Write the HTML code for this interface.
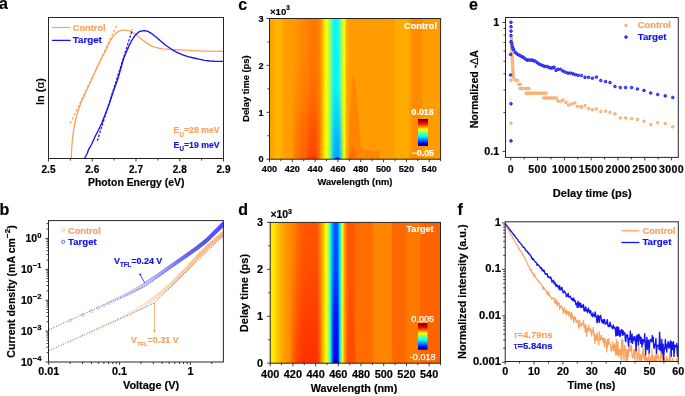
<!DOCTYPE html>
<html><head><meta charset="utf-8"><style>
html,body{margin:0;padding:0;background:#fff;}
svg{display:block;font-family:"Liberation Sans", sans-serif;-webkit-font-smoothing:antialiased;}
text{stroke:currentColor;stroke-width:0.18px;}
.w{will-change:transform;}
</style></head><body><div style="will-change:transform;width:685px;height:396px">
<svg width="685" height="396" viewBox="0 0 685 396">
<defs><clipPath id="ca"><rect x="48.5" y="17.5" width="175" height="141"/></clipPath><clipPath id="cb"><rect x="48.5" y="220.6" width="174.9" height="141.4"/></clipPath><clipPath id="cf"><rect x="505.2" y="221.8" width="173.1" height="139.7"/></clipPath><linearGradient id="gc" gradientUnits="userSpaceOnUse" x1="269.5" y1="0" x2="440.6" y2="0"><stop offset="0.0000" stop-color="#ffa000"/><stop offset="0.0146" stop-color="#ffa400"/><stop offset="0.0321" stop-color="#ffb000"/><stop offset="0.0497" stop-color="#ffb800"/><stop offset="0.0672" stop-color="#ffae00"/><stop offset="0.0847" stop-color="#ffa000"/><stop offset="0.1198" stop-color="#ff9c00"/><stop offset="0.1607" stop-color="#ff9600"/><stop offset="0.1783" stop-color="#ff8c00"/><stop offset="0.1958" stop-color="#ff8600"/><stop offset="0.2309" stop-color="#ff8200"/><stop offset="0.2425" stop-color="#ff7800"/><stop offset="0.2776" stop-color="#ff7800"/><stop offset="0.2951" stop-color="#ff8c00"/><stop offset="0.3068" stop-color="#ffa800"/><stop offset="0.3156" stop-color="#ffd000"/><stop offset="0.3244" stop-color="#fff000"/><stop offset="0.3331" stop-color="#ffff00"/><stop offset="0.3419" stop-color="#d0ff30"/><stop offset="0.3507" stop-color="#a0ff60"/><stop offset="0.3594" stop-color="#70ff90"/><stop offset="0.3682" stop-color="#40ffc0"/><stop offset="0.3770" stop-color="#10f0ff"/><stop offset="0.3887" stop-color="#00ffff"/><stop offset="0.3974" stop-color="#00ffff"/><stop offset="0.4044" stop-color="#20ffe0"/><stop offset="0.4120" stop-color="#60ffa0"/><stop offset="0.4208" stop-color="#a0ff60"/><stop offset="0.4296" stop-color="#e0ff20"/><stop offset="0.4372" stop-color="#ffff00"/><stop offset="0.4442" stop-color="#ffd000"/><stop offset="0.4530" stop-color="#ffa800"/><stop offset="0.4646" stop-color="#ff9c00"/><stop offset="0.7276" stop-color="#ff9c00"/><stop offset="0.7393" stop-color="#ffac00"/><stop offset="0.8095" stop-color="#ffac00"/><stop offset="0.8212" stop-color="#ff9c00"/><stop offset="0.8387" stop-color="#ff8c00"/><stop offset="0.8854" stop-color="#ff8c00"/><stop offset="0.8971" stop-color="#ff9c00"/><stop offset="1.0000" stop-color="#ff9c00"/></linearGradient><clipPath id="clc"><rect x="269.5" y="18.5" width="171.10" height="140.70"/></clipPath><linearGradient id="gcr" gradientUnits="userSpaceOnUse" x1="292" y1="0" x2="322" y2="0"><stop offset="0.0000" stop-color="#ff3c00" stop-opacity="0"/><stop offset="0.1333" stop-color="#ff3c00" stop-opacity="0.35"/><stop offset="0.3000" stop-color="#ff3c00" stop-opacity="0.45"/><stop offset="0.5000" stop-color="#ff3c00" stop-opacity="0.5"/><stop offset="0.5667" stop-color="#ff3c00" stop-opacity="0.8"/><stop offset="0.7667" stop-color="#ff3c00" stop-opacity="0.85"/><stop offset="0.8667" stop-color="#ff3c00" stop-opacity="0.5"/><stop offset="1.0000" stop-color="#ff3c00" stop-opacity="0"/></linearGradient><linearGradient id="mcrg" gradientUnits="userSpaceOnUse" x1="0" y1="18.5" x2="0" y2="159.2"><stop offset="0.0000" stop-color="#fff" stop-opacity="0.0"/><stop offset="0.2950" stop-color="#fff" stop-opacity="0.05"/><stop offset="0.5792" stop-color="#fff" stop-opacity="0.3"/><stop offset="0.7925" stop-color="#fff" stop-opacity="0.75"/><stop offset="0.9346" stop-color="#fff" stop-opacity="0.9"/><stop offset="1.0000" stop-color="#fff" stop-opacity="1"/></linearGradient><mask id="mcr" maskUnits="userSpaceOnUse" x="260" y="18.5" width="190" height="140.7"><rect x="260" y="18.5" width="190" height="140.7" fill="url(#mcrg)"/></mask><linearGradient id="gcy" gradientUnits="userSpaceOnUse" x1="318" y1="0" x2="327" y2="0"><stop offset="0.0000" stop-color="#ffe000" stop-opacity="0"/><stop offset="0.3333" stop-color="#ffe000" stop-opacity="0.15"/><stop offset="0.6111" stop-color="#ffe000" stop-opacity="0.1"/><stop offset="1.0000" stop-color="#ffe000" stop-opacity="0"/></linearGradient><linearGradient id="mcyg" gradientUnits="userSpaceOnUse" x1="0" y1="18.5" x2="0" y2="159.2"><stop offset="0.0000" stop-color="#fff" stop-opacity="0.0"/><stop offset="0.5792" stop-color="#fff" stop-opacity="0.0"/><stop offset="0.8635" stop-color="#fff" stop-opacity="0.7"/><stop offset="1.0000" stop-color="#fff" stop-opacity="1"/></linearGradient><mask id="mcy" maskUnits="userSpaceOnUse" x="260" y="18.5" width="190" height="140.7"><rect x="260" y="18.5" width="190" height="140.7" fill="url(#mcyg)"/></mask><linearGradient id="gcb" gradientUnits="userSpaceOnUse" x1="330" y1="0" x2="344" y2="0"><stop offset="0.0000" stop-color="#0090ff" stop-opacity="0"/><stop offset="0.2143" stop-color="#0090ff" stop-opacity="0.5"/><stop offset="0.4286" stop-color="#0090ff" stop-opacity="0.8"/><stop offset="0.5714" stop-color="#0090ff" stop-opacity="0.85"/><stop offset="0.7143" stop-color="#0090ff" stop-opacity="0.6"/><stop offset="1.0000" stop-color="#0090ff" stop-opacity="0"/></linearGradient><linearGradient id="mcbg" gradientUnits="userSpaceOnUse" x1="0" y1="18.5" x2="0" y2="159.2"><stop offset="0.0000" stop-color="#fff" stop-opacity="0.0"/><stop offset="0.5082" stop-color="#fff" stop-opacity="0.1"/><stop offset="0.7214" stop-color="#fff" stop-opacity="0.5"/><stop offset="0.8635" stop-color="#fff" stop-opacity="0.8"/><stop offset="1.0000" stop-color="#fff" stop-opacity="1"/></linearGradient><mask id="mcb" maskUnits="userSpaceOnUse" x="260" y="18.5" width="190" height="140.7"><rect x="260" y="18.5" width="190" height="140.7" fill="url(#mcbg)"/></mask><linearGradient id="jet" gradientUnits="userSpaceOnUse" x1="0" y1="146" x2="0" y2="119"><stop offset="-0.0000" stop-color="#000060"/><stop offset="0.1000" stop-color="#0000ff"/><stop offset="0.3600" stop-color="#00ffff"/><stop offset="0.5000" stop-color="#80ff80"/><stop offset="0.6200" stop-color="#ffff00"/><stop offset="0.8400" stop-color="#ff0000"/><stop offset="0.9300" stop-color="#b00000"/><stop offset="1.0000" stop-color="#300000"/></linearGradient><linearGradient id="gd" gradientUnits="userSpaceOnUse" x1="270.2" y1="0" x2="440.5" y2="0"><stop offset="0.0000" stop-color="#ffe000"/><stop offset="0.0106" stop-color="#fff000"/><stop offset="0.0252" stop-color="#ffe000"/><stop offset="0.0399" stop-color="#ffcc00"/><stop offset="0.0575" stop-color="#ffb400"/><stop offset="0.0869" stop-color="#ff9c00"/><stop offset="0.1163" stop-color="#ff8c00"/><stop offset="0.1456" stop-color="#ff7c00"/><stop offset="0.1691" stop-color="#ff6800"/><stop offset="0.1926" stop-color="#ff5a00"/><stop offset="0.2748" stop-color="#ff5200"/><stop offset="0.2836" stop-color="#ff6c00"/><stop offset="0.2983" stop-color="#ff9000"/><stop offset="0.3100" stop-color="#ffb800"/><stop offset="0.3218" stop-color="#ffe800"/><stop offset="0.3294" stop-color="#ffff00"/><stop offset="0.3394" stop-color="#c0ff40"/><stop offset="0.3482" stop-color="#60ffa0"/><stop offset="0.3541" stop-color="#20f0e0"/><stop offset="0.3600" stop-color="#00d0ff"/><stop offset="0.3688" stop-color="#0090ff"/><stop offset="0.3776" stop-color="#0060ff"/><stop offset="0.3864" stop-color="#0050ff"/><stop offset="0.3952" stop-color="#0070ff"/><stop offset="0.4011" stop-color="#00a0ff"/><stop offset="0.4069" stop-color="#00e0ff"/><stop offset="0.4157" stop-color="#40ffc0"/><stop offset="0.4245" stop-color="#ffff00"/><stop offset="0.4334" stop-color="#ffb000"/><stop offset="0.4422" stop-color="#ff8000"/><stop offset="0.4510" stop-color="#ff6800"/><stop offset="0.4568" stop-color="#ff5800"/><stop offset="0.4921" stop-color="#ff5800"/><stop offset="0.5038" stop-color="#ff6c00"/><stop offset="0.5978" stop-color="#ff6c00"/><stop offset="0.6095" stop-color="#ff8400"/><stop offset="0.7093" stop-color="#ff8400"/><stop offset="0.7211" stop-color="#ff6800"/><stop offset="0.7915" stop-color="#ff6800"/><stop offset="0.8033" stop-color="#ff7800"/><stop offset="0.8738" stop-color="#ff7800"/><stop offset="0.8855" stop-color="#ff6400"/><stop offset="1.0000" stop-color="#ff6400"/></linearGradient><clipPath id="cld"><rect x="270.2" y="222.4" width="170.30" height="140.80"/></clipPath><linearGradient id="gdr" gradientUnits="userSpaceOnUse" x1="290" y1="0" x2="322" y2="0"><stop offset="0.0000" stop-color="#ff2400" stop-opacity="0"/><stop offset="0.0938" stop-color="#ff2400" stop-opacity="0.35"/><stop offset="0.2500" stop-color="#ff2400" stop-opacity="0.6"/><stop offset="0.4375" stop-color="#ff2400" stop-opacity="0.8"/><stop offset="0.8125" stop-color="#ff2400" stop-opacity="0.8"/><stop offset="0.9062" stop-color="#ff2400" stop-opacity="0.5"/><stop offset="1.0000" stop-color="#ff2400" stop-opacity="0"/></linearGradient><linearGradient id="mdrg" gradientUnits="userSpaceOnUse" x1="0" y1="222.4" x2="0" y2="363.2"><stop offset="0.0000" stop-color="#fff" stop-opacity="0.0"/><stop offset="0.2670" stop-color="#fff" stop-opacity="0.15"/><stop offset="0.5511" stop-color="#fff" stop-opacity="0.45"/><stop offset="0.8352" stop-color="#fff" stop-opacity="0.8"/><stop offset="1.0000" stop-color="#fff" stop-opacity="1"/></linearGradient><mask id="mdr" maskUnits="userSpaceOnUse" x="260" y="222.4" width="190" height="140.79999999999998"><rect x="260" y="222.4" width="190" height="140.79999999999998" fill="url(#mdrg)"/></mask><linearGradient id="gdb" gradientUnits="userSpaceOnUse" x1="331" y1="0" x2="340" y2="0"><stop offset="0.0000" stop-color="#0000e8" stop-opacity="0"/><stop offset="0.2222" stop-color="#0000e8" stop-opacity="0.7"/><stop offset="0.5000" stop-color="#0000e8" stop-opacity="1"/><stop offset="0.7222" stop-color="#0000e8" stop-opacity="0.9"/><stop offset="1.0000" stop-color="#0000e8" stop-opacity="0"/></linearGradient><linearGradient id="mdbg" gradientUnits="userSpaceOnUse" x1="0" y1="222.4" x2="0" y2="363.2"><stop offset="0.0000" stop-color="#fff" stop-opacity="0.0"/><stop offset="0.3381" stop-color="#fff" stop-opacity="0.2"/><stop offset="0.6932" stop-color="#fff" stop-opacity="0.8"/><stop offset="1.0000" stop-color="#fff" stop-opacity="1"/></linearGradient><mask id="mdb" maskUnits="userSpaceOnUse" x="260" y="222.4" width="190" height="140.79999999999998"><rect x="260" y="222.4" width="190" height="140.79999999999998" fill="url(#mdbg)"/></mask><linearGradient id="jet2" gradientUnits="userSpaceOnUse" x1="0" y1="349.7" x2="0" y2="323.3"><stop offset="-0.0000" stop-color="#000060"/><stop offset="0.1000" stop-color="#0000ff"/><stop offset="0.3600" stop-color="#00ffff"/><stop offset="0.5000" stop-color="#80ff80"/><stop offset="0.6200" stop-color="#ffff00"/><stop offset="0.8400" stop-color="#ff0000"/><stop offset="0.9300" stop-color="#b00000"/><stop offset="1.0000" stop-color="#300000"/></linearGradient></defs>
<rect width="685" height="396" fill="#fff"/>
<text x="-1" y="8.8" font-size="16" text-anchor="start" fill="#000" color="#000" font-weight="bold" >a</text>
<text x="238.2" y="9.8" font-size="16" text-anchor="start" fill="#000" color="#000" font-weight="bold" >c</text>
<text x="469" y="9.8" font-size="16" text-anchor="start" fill="#000" color="#000" font-weight="bold" >e</text>
<text x="-0.5" y="214.6" font-size="16" text-anchor="start" fill="#000" color="#000" font-weight="bold" >b</text>
<text x="238.2" y="214.6" font-size="16" text-anchor="start" fill="#000" color="#000" font-weight="bold" >d</text>
<text x="457.5" y="214.6" font-size="16" text-anchor="start" fill="#000" color="#000" font-weight="bold" >f</text>
<g clip-path="url(#ca)">
<path d="M71.3,158.5 71.6,150 72.3,140.7 73.2,133 74.3,126.5 76,118 78.3,110.3 81,102.5 84.4,95.2 88,87.5 91.5,80 96,70 100,61.5 103.3,55 105,52.3 107.5,46.5 110,41.2 112.5,37.3 115.1,34.1 117.5,32 120.2,30.6 125.2,30.1 130.3,31.1 135.3,34.1 140.4,38.2 145,41.7 149,44.6 153.2,46.6 158,48 162.4,48.9 175.3,49.6 193.8,50.6 212.2,51.3 223.5,51.2" fill="none" stroke="#f8a25e" stroke-width="1.3" stroke-linejoin="round" />
<path d="M84.4,158.5 87,154 88.8,149.1 91.5,144.5 95.6,135.5 98.5,130 101.7,123.3 104.7,115.5 107.7,108.2 110.7,99.5 113.8,90 117.8,79 120.2,70.5 123.2,60 125,55 127.2,50.3 129.2,45.5 131.3,41.2 133.3,38 135.3,35.2 137.3,33.2 139.3,31.6 142,30.8 145,30.6 148,31.3 151.3,33.3 156,37 160.6,41 166,45.5 171.6,49.3 177,52.3 182.7,54.8 188,56.6 193.8,58 199,59.2 204.8,60.3 210,61 215.9,61.3 223.5,61.3" fill="none" stroke="#1414f0" stroke-width="1.35" stroke-linejoin="round" />
<line x1="70.2" y1="123.5" x2="117.1" y2="24.7" stroke="#f8a25e" stroke-width="1.2" stroke-dasharray="2.6,1.8"/>
<line x1="97.3" y1="140.8" x2="132.4" y2="29.5" stroke="#1414f0" stroke-width="1.2" stroke-dasharray="2.6,1.4"/>
</g>
<rect x="48.5" y="17.5" width="175" height="141" fill="none" stroke="#262626" stroke-width="1"/>
<path d="M48.5,158.5v3M92.25,158.5v3M136,158.5v3M179.75,158.5v3M223.5,158.5v3M70.37,158.5v2M114.12,158.5v2M157.88,158.5v2M201.62,158.5v2" stroke="#262626" stroke-width="0.9" fill="none"/>
<text x="48.5" y="173" font-size="10" text-anchor="middle" fill="#000" color="#000" font-weight="bold" >2.5</text>
<text x="92.25" y="173" font-size="10" text-anchor="middle" fill="#000" color="#000" font-weight="bold" >2.6</text>
<text x="136" y="173" font-size="10" text-anchor="middle" fill="#000" color="#000" font-weight="bold" >2.7</text>
<text x="179.75" y="173" font-size="10" text-anchor="middle" fill="#000" color="#000" font-weight="bold" >2.8</text>
<text x="223.5" y="173" font-size="10" text-anchor="middle" fill="#000" color="#000" font-weight="bold" >2.9</text>
<text x="136.2" y="186.1" font-size="10.4" text-anchor="middle" fill="#000" color="#000" font-weight="bold" >Photon Energy (eV)</text>
<text transform="translate(43.8,91.6) rotate(-90)" font-size="11" text-anchor="middle" font-weight="bold" >ln (<tspan font-weight="normal" font-size="11.5">α</tspan>)</text>
<line x1="52" y1="27.5" x2="70.6" y2="27.5" stroke="#f8a25e" stroke-width="1.2" />
<text x="72.7" y="30.9" font-size="9.6" text-anchor="start" fill="#f8a25e" color="#f8a25e" font-weight="bold" textLength="33" lengthAdjust="spacingAndGlyphs">Control</text>
<line x1="52" y1="40.4" x2="70.6" y2="40.4" stroke="#1414f0" stroke-width="1.3" />
<text x="72.7" y="43.2" font-size="9.6" text-anchor="start" fill="#1414f0" color="#1414f0" font-weight="bold" textLength="29.2" lengthAdjust="spacingAndGlyphs">Target</text>
<text x="173.6" y="133.3" font-size="9.5" text-anchor="start" fill="#f8a25e" color="#f8a25e" font-weight="bold" textLength="46" lengthAdjust="spacingAndGlyphs">E<tspan font-size="6.8" dy="3.6">U</tspan><tspan dy="-3.6">=28 meV</tspan></text>
<text x="173.6" y="147.6" font-size="9.5" text-anchor="start" fill="#1414f0" color="#1414f0" font-weight="bold" textLength="46" lengthAdjust="spacingAndGlyphs">E<tspan font-size="6.8" dy="3.6">U</tspan><tspan dy="-3.6">=19 meV</tspan></text>
<g clip-path="url(#cb)">
<g fill="none" stroke="#fbbb88" stroke-width="0.3"><circle cx="70.11" cy="341.18" r="1.6"/><circle cx="82.58" cy="336.23" r="1.6"/><circle cx="91.43" cy="332.16" r="1.6"/><circle cx="98.29" cy="329.05" r="1.6"/><circle cx="103.89" cy="326.56" r="1.6"/><circle cx="108.63" cy="324.3" r="1.6"/><circle cx="112.74" cy="322.35" r="1.6"/><circle cx="116.36" cy="320.49" r="1.6"/><circle cx="119.6" cy="318.77" r="1.6"/><circle cx="122.53" cy="317.21" r="1.6"/><circle cx="125.21" cy="315.78" r="1.6"/><circle cx="127.67" cy="314.5" r="1.6"/><circle cx="129.95" cy="313.33" r="1.6"/><circle cx="132.07" cy="312.25" r="1.6"/><circle cx="134.05" cy="311.23" r="1.6"/><circle cx="135.92" cy="310.28" r="1.6"/><circle cx="137.67" cy="309.38" r="1.6"/><circle cx="139.34" cy="308.51" r="1.6"/><circle cx="140.91" cy="307.44" r="1.6"/><circle cx="142.41" cy="306.43" r="1.6"/><circle cx="143.84" cy="305.46" r="1.6"/><circle cx="145.21" cy="304.54" r="1.6"/><circle cx="146.52" cy="303.65" r="1.6"/><circle cx="147.77" cy="302.8" r="1.6"/><circle cx="148.98" cy="301.99" r="1.6"/><circle cx="150.14" cy="301.19" r="1.6"/><circle cx="151.26" cy="300.36" r="1.6"/><circle cx="152.34" cy="299.55" r="1.6"/><circle cx="153.38" cy="298.77" r="1.6"/><circle cx="154.39" cy="298.02" r="1.6"/><circle cx="155.36" cy="297.29" r="1.6"/><circle cx="156.31" cy="296.58" r="1.6"/><circle cx="157.23" cy="295.9" r="1.6"/><circle cx="158.12" cy="295.23" r="1.6"/><circle cx="158.99" cy="294.58" r="1.6"/><circle cx="159.83" cy="293.93" r="1.6"/><circle cx="160.65" cy="293.27" r="1.6"/><circle cx="161.45" cy="292.63" r="1.6"/><circle cx="162.23" cy="292" r="1.6"/><circle cx="162.99" cy="291.38" r="1.6"/><circle cx="163.73" cy="290.78" r="1.6"/><circle cx="164.45" cy="290.2" r="1.6"/><circle cx="165.16" cy="289.63" r="1.6"/><circle cx="165.85" cy="289.07" r="1.6"/><circle cx="166.52" cy="288.52" r="1.6"/><circle cx="167.18" cy="287.99" r="1.6"/><circle cx="167.83" cy="287.46" r="1.6"/><circle cx="168.47" cy="286.95" r="1.6"/><circle cx="169.09" cy="286.41" r="1.6"/><circle cx="169.7" cy="285.81" r="1.6"/><circle cx="170.29" cy="285.22" r="1.6"/><circle cx="170.88" cy="284.64" r="1.6"/><circle cx="171.45" cy="284.07" r="1.6"/><circle cx="172.02" cy="283.52" r="1.6"/><circle cx="172.57" cy="282.97" r="1.6"/><circle cx="173.12" cy="282.43" r="1.6"/><circle cx="173.65" cy="281.9" r="1.6"/><circle cx="174.18" cy="281.38" r="1.6"/><circle cx="174.69" cy="280.87" r="1.6"/><circle cx="175.2" cy="280.36" r="1.6"/><circle cx="175.7" cy="279.87" r="1.6"/><circle cx="176.19" cy="279.38" r="1.6"/><circle cx="176.68" cy="278.9" r="1.6"/><circle cx="177.15" cy="278.43" r="1.6"/><circle cx="177.62" cy="277.97" r="1.6"/><circle cx="178.09" cy="277.51" r="1.6"/><circle cx="178.54" cy="277.06" r="1.6"/><circle cx="178.99" cy="276.61" r="1.6"/><circle cx="179.43" cy="276.17" r="1.6"/><circle cx="179.87" cy="275.73" r="1.6"/><circle cx="180.3" cy="275.3" r="1.6"/><circle cx="180.72" cy="274.88" r="1.6"/><circle cx="181.14" cy="274.46" r="1.6"/><circle cx="181.55" cy="274.05" r="1.6"/><circle cx="181.96" cy="273.64" r="1.6"/><circle cx="182.36" cy="273.24" r="1.6"/><circle cx="182.76" cy="272.84" r="1.6"/><circle cx="183.15" cy="272.45" r="1.6"/><circle cx="183.54" cy="272.06" r="1.6"/><circle cx="183.92" cy="271.68" r="1.6"/><circle cx="184.3" cy="271.3" r="1.6"/><circle cx="184.67" cy="270.93" r="1.6"/><circle cx="185.04" cy="270.56" r="1.6"/><circle cx="185.4" cy="270.2" r="1.6"/><circle cx="185.76" cy="269.84" r="1.6"/><circle cx="186.12" cy="269.48" r="1.6"/><circle cx="186.47" cy="269.13" r="1.6"/><circle cx="186.82" cy="268.78" r="1.6"/><circle cx="187.16" cy="268.44" r="1.6"/><circle cx="187.5" cy="268.1" r="1.6"/><circle cx="187.84" cy="267.76" r="1.6"/><circle cx="188.17" cy="267.4" r="1.6"/><circle cx="188.5" cy="267.04" r="1.6"/><circle cx="188.82" cy="266.68" r="1.6"/><circle cx="189.14" cy="266.32" r="1.6"/><circle cx="189.46" cy="265.97" r="1.6"/><circle cx="189.78" cy="265.62" r="1.6"/><circle cx="190.09" cy="265.28" r="1.6"/><circle cx="190.4" cy="264.93" r="1.6"/><circle cx="190.71" cy="264.6" r="1.6"/><circle cx="191.01" cy="264.26" r="1.6"/><circle cx="191.31" cy="263.93" r="1.6"/><circle cx="191.61" cy="263.6" r="1.6"/><circle cx="191.9" cy="263.27" r="1.6"/><circle cx="192.19" cy="262.95" r="1.6"/><circle cx="192.48" cy="262.63" r="1.6"/><circle cx="192.77" cy="262.32" r="1.6"/><circle cx="193.05" cy="262" r="1.6"/><circle cx="193.33" cy="261.69" r="1.6"/><circle cx="193.61" cy="261.38" r="1.6"/><circle cx="193.88" cy="261.08" r="1.6"/><circle cx="194.16" cy="260.78" r="1.6"/><circle cx="194.43" cy="260.48" r="1.6"/><circle cx="194.7" cy="260.18" r="1.6"/><circle cx="194.96" cy="259.88" r="1.6"/><circle cx="195.23" cy="259.59" r="1.6"/><circle cx="195.49" cy="259.3" r="1.6"/><circle cx="195.75" cy="259.02" r="1.6"/><circle cx="196.01" cy="258.73" r="1.6"/><circle cx="196.26" cy="258.45" r="1.6"/><circle cx="196.51" cy="258.17" r="1.6"/><circle cx="196.77" cy="257.89" r="1.6"/><circle cx="197.01" cy="257.62" r="1.6"/><circle cx="197.26" cy="257.34" r="1.6"/><circle cx="197.51" cy="257.09" r="1.6"/><circle cx="197.75" cy="256.85" r="1.6"/><circle cx="197.99" cy="256.61" r="1.6"/><circle cx="198.23" cy="256.37" r="1.6"/><circle cx="198.47" cy="256.13" r="1.6"/><circle cx="198.7" cy="255.9" r="1.6"/><circle cx="198.94" cy="255.66" r="1.6"/><circle cx="199.17" cy="255.43" r="1.6"/><circle cx="199.4" cy="255.2" r="1.6"/><circle cx="199.63" cy="254.97" r="1.6"/><circle cx="199.85" cy="254.75" r="1.6"/><circle cx="200.08" cy="254.52" r="1.6"/><circle cx="200.3" cy="254.3" r="1.6"/><circle cx="200.53" cy="254.07" r="1.6"/><circle cx="200.75" cy="253.85" r="1.6"/><circle cx="200.96" cy="253.64" r="1.6"/><circle cx="201.18" cy="253.42" r="1.6"/><circle cx="201.4" cy="253.2" r="1.6"/><circle cx="201.61" cy="252.99" r="1.6"/><circle cx="201.82" cy="252.78" r="1.6"/><circle cx="202.04" cy="252.56" r="1.6"/><circle cx="202.25" cy="252.35" r="1.6"/><circle cx="202.45" cy="252.15" r="1.6"/><circle cx="202.66" cy="251.94" r="1.6"/><circle cx="202.87" cy="251.73" r="1.6"/><circle cx="203.07" cy="251.53" r="1.6"/><circle cx="203.27" cy="251.33" r="1.6"/><circle cx="203.48" cy="251.12" r="1.6"/><circle cx="203.68" cy="250.92" r="1.6"/><circle cx="203.88" cy="250.72" r="1.6"/><circle cx="204.07" cy="250.53" r="1.6"/><circle cx="204.27" cy="250.33" r="1.6"/><circle cx="204.46" cy="250.14" r="1.6"/><circle cx="204.66" cy="249.94" r="1.6"/><circle cx="204.85" cy="249.75" r="1.6"/><circle cx="205.04" cy="249.56" r="1.6"/><circle cx="205.23" cy="249.37" r="1.6"/><circle cx="205.42" cy="249.18" r="1.6"/><circle cx="205.61" cy="248.99" r="1.6"/><circle cx="205.8" cy="248.8" r="1.6"/><circle cx="205.98" cy="248.62" r="1.6"/><circle cx="206.17" cy="248.43" r="1.6"/><circle cx="206.35" cy="248.25" r="1.6"/><circle cx="206.53" cy="248.07" r="1.6"/><circle cx="206.72" cy="247.88" r="1.6"/><circle cx="206.9" cy="247.71" r="1.6"/><circle cx="207.08" cy="247.55" r="1.6"/><circle cx="207.25" cy="247.39" r="1.6"/><circle cx="207.43" cy="247.24" r="1.6"/><circle cx="207.61" cy="247.08" r="1.6"/><circle cx="207.78" cy="246.92" r="1.6"/><circle cx="207.96" cy="246.77" r="1.6"/><circle cx="208.13" cy="246.61" r="1.6"/><circle cx="208.3" cy="246.46" r="1.6"/><circle cx="208.47" cy="246.3" r="1.6"/><circle cx="208.64" cy="246.15" r="1.6"/><circle cx="208.81" cy="246" r="1.6"/><circle cx="208.98" cy="245.85" r="1.6"/><circle cx="209.15" cy="245.7" r="1.6"/><circle cx="209.32" cy="245.55" r="1.6"/><circle cx="209.48" cy="245.4" r="1.6"/><circle cx="209.65" cy="245.25" r="1.6"/><circle cx="209.81" cy="245.11" r="1.6"/><circle cx="209.97" cy="244.96" r="1.6"/><circle cx="210.14" cy="244.82" r="1.6"/><circle cx="210.3" cy="244.67" r="1.6"/><circle cx="210.46" cy="244.53" r="1.6"/><circle cx="210.62" cy="244.38" r="1.6"/><circle cx="210.78" cy="244.24" r="1.6"/><circle cx="210.93" cy="244.1" r="1.6"/><circle cx="211.09" cy="243.96" r="1.6"/><circle cx="211.25" cy="243.82" r="1.6"/><circle cx="211.4" cy="243.68" r="1.6"/><circle cx="211.56" cy="243.54" r="1.6"/><circle cx="211.71" cy="243.4" r="1.6"/><circle cx="211.87" cy="243.27" r="1.6"/><circle cx="212.02" cy="243.13" r="1.6"/><circle cx="212.17" cy="242.99" r="1.6"/><circle cx="212.32" cy="242.86" r="1.6"/><circle cx="212.47" cy="242.72" r="1.6"/><circle cx="212.62" cy="242.59" r="1.6"/><circle cx="212.77" cy="242.46" r="1.6"/><circle cx="212.92" cy="242.33" r="1.6"/><circle cx="213.07" cy="242.19" r="1.6"/><circle cx="213.21" cy="242.06" r="1.6"/><circle cx="213.36" cy="241.93" r="1.6"/><circle cx="213.5" cy="241.8" r="1.6"/><circle cx="213.65" cy="241.67" r="1.6"/><circle cx="213.79" cy="241.54" r="1.6"/><circle cx="213.94" cy="241.41" r="1.6"/><circle cx="214.08" cy="241.29" r="1.6"/><circle cx="214.22" cy="241.16" r="1.6"/><circle cx="214.36" cy="241.03" r="1.6"/><circle cx="214.5" cy="240.91" r="1.6"/><circle cx="214.64" cy="240.78" r="1.6"/><circle cx="214.78" cy="240.66" r="1.6"/><circle cx="214.92" cy="240.53" r="1.6"/><circle cx="215.06" cy="240.41" r="1.6"/><circle cx="215.2" cy="240.29" r="1.6"/><circle cx="215.33" cy="240.16" r="1.6"/><circle cx="215.47" cy="240.04" r="1.6"/><circle cx="215.61" cy="239.92" r="1.6"/><circle cx="215.74" cy="239.8" r="1.6"/><circle cx="215.88" cy="239.68" r="1.6"/><circle cx="216.01" cy="239.56" r="1.6"/><circle cx="216.14" cy="239.44" r="1.6"/><circle cx="216.28" cy="239.32" r="1.6"/><circle cx="216.41" cy="239.21" r="1.6"/><circle cx="216.54" cy="239.1" r="1.6"/><circle cx="216.67" cy="238.99" r="1.6"/><circle cx="216.8" cy="238.88" r="1.6"/><circle cx="216.93" cy="238.77" r="1.6"/><circle cx="217.06" cy="238.66" r="1.6"/><circle cx="217.19" cy="238.55" r="1.6"/><circle cx="217.32" cy="238.44" r="1.6"/><circle cx="217.45" cy="238.33" r="1.6"/><circle cx="217.57" cy="238.22" r="1.6"/><circle cx="217.7" cy="238.12" r="1.6"/><circle cx="217.83" cy="238.01" r="1.6"/><circle cx="217.95" cy="237.9" r="1.6"/><circle cx="218.08" cy="237.8" r="1.6"/><circle cx="218.2" cy="237.69" r="1.6"/><circle cx="218.33" cy="237.59" r="1.6"/><circle cx="218.45" cy="237.48" r="1.6"/><circle cx="218.57" cy="237.38" r="1.6"/><circle cx="218.7" cy="237.27" r="1.6"/><circle cx="218.82" cy="237.17" r="1.6"/><circle cx="218.94" cy="237.07" r="1.6"/><circle cx="219.06" cy="236.97" r="1.6"/><circle cx="219.18" cy="236.86" r="1.6"/><circle cx="219.3" cy="236.76" r="1.6"/><circle cx="219.42" cy="236.66" r="1.6"/><circle cx="219.54" cy="236.56" r="1.6"/><circle cx="219.66" cy="236.46" r="1.6"/><circle cx="219.78" cy="236.36" r="1.6"/><circle cx="219.9" cy="236.26" r="1.6"/><circle cx="220.02" cy="236.16" r="1.6"/><circle cx="220.13" cy="236.06" r="1.6"/><circle cx="220.25" cy="235.96" r="1.6"/><circle cx="220.37" cy="235.86" r="1.6"/><circle cx="220.48" cy="235.77" r="1.6"/><circle cx="220.6" cy="235.67" r="1.6"/><circle cx="220.71" cy="235.57" r="1.6"/><circle cx="220.83" cy="235.47" r="1.6"/><circle cx="220.94" cy="235.38" r="1.6"/><circle cx="221.05" cy="235.28" r="1.6"/><circle cx="221.17" cy="235.19" r="1.6"/><circle cx="221.28" cy="235.09" r="1.6"/><circle cx="221.39" cy="235" r="1.6"/><circle cx="221.5" cy="234.9" r="1.6"/><circle cx="221.62" cy="234.81" r="1.6"/><circle cx="221.73" cy="234.71" r="1.6"/><circle cx="221.84" cy="234.62" r="1.6"/><circle cx="221.95" cy="234.53" r="1.6"/><circle cx="222.06" cy="234.43" r="1.6"/><circle cx="222.17" cy="234.34" r="1.6"/><circle cx="222.28" cy="234.25" r="1.6"/><circle cx="222.39" cy="234.16" r="1.6"/><circle cx="222.49" cy="234.06" r="1.6"/><circle cx="222.6" cy="233.97" r="1.6"/><circle cx="222.71" cy="233.88" r="1.6"/><circle cx="222.82" cy="233.79" r="1.6"/><circle cx="222.92" cy="233.7" r="1.6"/><circle cx="223.03" cy="233.61" r="1.6"/><circle cx="223.14" cy="233.52" r="1.6"/><circle cx="223.24" cy="233.43" r="1.6"/><circle cx="223.35" cy="233.34" r="1.6"/><circle cx="223.45" cy="233.3" r="1.6"/><circle cx="223.56" cy="233.3" r="1.6"/></g>
<g fill="none" stroke="#5555ff" stroke-width="0.3"><circle cx="70.11" cy="320.45" r="1.6"/><circle cx="82.58" cy="315.04" r="1.6"/><circle cx="91.43" cy="311.25" r="1.6"/><circle cx="98.29" cy="307.97" r="1.6"/><circle cx="103.89" cy="305.6" r="1.6"/><circle cx="108.63" cy="303.23" r="1.6"/><circle cx="112.74" cy="301.2" r="1.6"/><circle cx="116.36" cy="299.5" r="1.6"/><circle cx="119.6" cy="297.98" r="1.6"/><circle cx="122.53" cy="296.55" r="1.6"/><circle cx="125.21" cy="295.22" r="1.6"/><circle cx="127.67" cy="294" r="1.6"/><circle cx="129.95" cy="292.88" r="1.6"/><circle cx="132.07" cy="291.72" r="1.6"/><circle cx="134.05" cy="290.62" r="1.6"/><circle cx="135.92" cy="289.59" r="1.6"/><circle cx="137.67" cy="288.61" r="1.6"/><circle cx="139.34" cy="287.69" r="1.6"/><circle cx="140.91" cy="286.75" r="1.6"/><circle cx="142.41" cy="285.73" r="1.6"/><circle cx="143.84" cy="284.76" r="1.6"/><circle cx="145.21" cy="283.83" r="1.6"/><circle cx="146.52" cy="282.95" r="1.6"/><circle cx="147.77" cy="282.09" r="1.6"/><circle cx="148.98" cy="281.29" r="1.6"/><circle cx="150.14" cy="280.53" r="1.6"/><circle cx="151.26" cy="279.79" r="1.6"/><circle cx="152.34" cy="279.09" r="1.6"/><circle cx="153.38" cy="278.41" r="1.6"/><circle cx="154.39" cy="277.75" r="1.6"/><circle cx="155.36" cy="277.11" r="1.6"/><circle cx="156.31" cy="276.49" r="1.6"/><circle cx="157.23" cy="275.89" r="1.6"/><circle cx="158.12" cy="275.3" r="1.6"/><circle cx="158.99" cy="274.74" r="1.6"/><circle cx="159.83" cy="274.17" r="1.6"/><circle cx="160.65" cy="273.58" r="1.6"/><circle cx="161.45" cy="273.01" r="1.6"/><circle cx="162.23" cy="272.46" r="1.6"/><circle cx="162.99" cy="271.92" r="1.6"/><circle cx="163.73" cy="271.39" r="1.6"/><circle cx="164.45" cy="270.87" r="1.6"/><circle cx="165.16" cy="270.37" r="1.6"/><circle cx="165.85" cy="269.88" r="1.6"/><circle cx="166.52" cy="269.39" r="1.6"/><circle cx="167.18" cy="268.92" r="1.6"/><circle cx="167.83" cy="268.46" r="1.6"/><circle cx="168.47" cy="268.01" r="1.6"/><circle cx="169.09" cy="267.57" r="1.6"/><circle cx="169.7" cy="267.15" r="1.6"/><circle cx="170.29" cy="266.73" r="1.6"/><circle cx="170.88" cy="266.33" r="1.6"/><circle cx="171.45" cy="265.93" r="1.6"/><circle cx="172.02" cy="265.53" r="1.6"/><circle cx="172.57" cy="265.15" r="1.6"/><circle cx="173.12" cy="264.77" r="1.6"/><circle cx="173.65" cy="264.4" r="1.6"/><circle cx="174.18" cy="264.03" r="1.6"/><circle cx="174.69" cy="263.68" r="1.6"/><circle cx="175.2" cy="263.32" r="1.6"/><circle cx="175.7" cy="262.97" r="1.6"/><circle cx="176.19" cy="262.63" r="1.6"/><circle cx="176.68" cy="262.3" r="1.6"/><circle cx="177.15" cy="261.97" r="1.6"/><circle cx="177.62" cy="261.64" r="1.6"/><circle cx="178.09" cy="261.32" r="1.6"/><circle cx="178.54" cy="261" r="1.6"/><circle cx="178.99" cy="260.69" r="1.6"/><circle cx="179.43" cy="260.38" r="1.6"/><circle cx="179.87" cy="260.08" r="1.6"/><circle cx="180.3" cy="259.78" r="1.6"/><circle cx="180.72" cy="259.49" r="1.6"/><circle cx="181.14" cy="259.2" r="1.6"/><circle cx="181.55" cy="258.91" r="1.6"/><circle cx="181.96" cy="258.63" r="1.6"/><circle cx="182.36" cy="258.35" r="1.6"/><circle cx="182.76" cy="258.07" r="1.6"/><circle cx="183.15" cy="257.8" r="1.6"/><circle cx="183.54" cy="257.53" r="1.6"/><circle cx="183.92" cy="257.26" r="1.6"/><circle cx="184.3" cy="257" r="1.6"/><circle cx="184.67" cy="256.74" r="1.6"/><circle cx="185.04" cy="256.49" r="1.6"/><circle cx="185.4" cy="256.23" r="1.6"/><circle cx="185.76" cy="255.99" r="1.6"/><circle cx="186.12" cy="255.74" r="1.6"/><circle cx="186.47" cy="255.49" r="1.6"/><circle cx="186.82" cy="255.25" r="1.6"/><circle cx="187.16" cy="255.01" r="1.6"/><circle cx="187.5" cy="254.78" r="1.6"/><circle cx="187.84" cy="254.54" r="1.6"/><circle cx="188.17" cy="254.31" r="1.6"/><circle cx="188.5" cy="254.07" r="1.6"/><circle cx="188.82" cy="253.84" r="1.6"/><circle cx="189.14" cy="253.61" r="1.6"/><circle cx="189.46" cy="253.39" r="1.6"/><circle cx="189.78" cy="253.16" r="1.6"/><circle cx="190.09" cy="252.94" r="1.6"/><circle cx="190.4" cy="252.72" r="1.6"/><circle cx="190.71" cy="252.5" r="1.6"/><circle cx="191.01" cy="252.28" r="1.6"/><circle cx="191.31" cy="252.07" r="1.6"/><circle cx="191.61" cy="251.86" r="1.6"/><circle cx="191.9" cy="251.65" r="1.6"/><circle cx="192.19" cy="251.44" r="1.6"/><circle cx="192.48" cy="251.24" r="1.6"/><circle cx="192.77" cy="251.03" r="1.6"/><circle cx="193.05" cy="250.83" r="1.6"/><circle cx="193.33" cy="250.63" r="1.6"/><circle cx="193.61" cy="250.43" r="1.6"/><circle cx="193.88" cy="250.23" r="1.6"/><circle cx="194.16" cy="250.04" r="1.6"/><circle cx="194.43" cy="249.85" r="1.6"/><circle cx="194.7" cy="249.66" r="1.6"/><circle cx="194.96" cy="249.47" r="1.6"/><circle cx="195.23" cy="249.28" r="1.6"/><circle cx="195.49" cy="249.09" r="1.6"/><circle cx="195.75" cy="248.91" r="1.6"/><circle cx="196.01" cy="248.72" r="1.6"/><circle cx="196.26" cy="248.54" r="1.6"/><circle cx="196.51" cy="248.36" r="1.6"/><circle cx="196.77" cy="248.18" r="1.6"/><circle cx="197.01" cy="248" r="1.6"/><circle cx="197.26" cy="247.83" r="1.6"/><circle cx="197.51" cy="247.64" r="1.6"/><circle cx="197.75" cy="247.45" r="1.6"/><circle cx="197.99" cy="247.25" r="1.6"/><circle cx="198.23" cy="247.07" r="1.6"/><circle cx="198.47" cy="246.88" r="1.6"/><circle cx="198.7" cy="246.69" r="1.6"/><circle cx="198.94" cy="246.51" r="1.6"/><circle cx="199.17" cy="246.32" r="1.6"/><circle cx="199.4" cy="246.14" r="1.6"/><circle cx="199.63" cy="245.96" r="1.6"/><circle cx="199.85" cy="245.78" r="1.6"/><circle cx="200.08" cy="245.61" r="1.6"/><circle cx="200.3" cy="245.43" r="1.6"/><circle cx="200.53" cy="245.25" r="1.6"/><circle cx="200.75" cy="245.08" r="1.6"/><circle cx="200.96" cy="244.91" r="1.6"/><circle cx="201.18" cy="244.74" r="1.6"/><circle cx="201.4" cy="244.56" r="1.6"/><circle cx="201.61" cy="244.4" r="1.6"/><circle cx="201.82" cy="244.23" r="1.6"/><circle cx="202.04" cy="244.06" r="1.6"/><circle cx="202.25" cy="243.9" r="1.6"/><circle cx="202.45" cy="243.73" r="1.6"/><circle cx="202.66" cy="243.57" r="1.6"/><circle cx="202.87" cy="243.4" r="1.6"/><circle cx="203.07" cy="243.24" r="1.6"/><circle cx="203.27" cy="243.08" r="1.6"/><circle cx="203.48" cy="242.92" r="1.6"/><circle cx="203.68" cy="242.77" r="1.6"/><circle cx="203.88" cy="242.61" r="1.6"/><circle cx="204.07" cy="242.45" r="1.6"/><circle cx="204.27" cy="242.3" r="1.6"/><circle cx="204.46" cy="242.14" r="1.6"/><circle cx="204.66" cy="241.99" r="1.6"/><circle cx="204.85" cy="241.84" r="1.6"/><circle cx="205.04" cy="241.69" r="1.6"/><circle cx="205.23" cy="241.54" r="1.6"/><circle cx="205.42" cy="241.39" r="1.6"/><circle cx="205.61" cy="241.24" r="1.6"/><circle cx="205.8" cy="241.09" r="1.6"/><circle cx="205.98" cy="240.94" r="1.6"/><circle cx="206.17" cy="240.8" r="1.6"/><circle cx="206.35" cy="240.65" r="1.6"/><circle cx="206.53" cy="240.51" r="1.6"/><circle cx="206.72" cy="240.37" r="1.6"/><circle cx="206.9" cy="240.2" r="1.6"/><circle cx="207.08" cy="240.02" r="1.6"/><circle cx="207.25" cy="239.85" r="1.6"/><circle cx="207.43" cy="239.67" r="1.6"/><circle cx="207.61" cy="239.49" r="1.6"/><circle cx="207.78" cy="239.32" r="1.6"/><circle cx="207.96" cy="239.14" r="1.6"/><circle cx="208.13" cy="238.97" r="1.6"/><circle cx="208.3" cy="238.8" r="1.6"/><circle cx="208.47" cy="238.63" r="1.6"/><circle cx="208.64" cy="238.46" r="1.6"/><circle cx="208.81" cy="238.29" r="1.6"/><circle cx="208.98" cy="238.12" r="1.6"/><circle cx="209.15" cy="237.95" r="1.6"/><circle cx="209.32" cy="237.78" r="1.6"/><circle cx="209.48" cy="237.62" r="1.6"/><circle cx="209.65" cy="237.45" r="1.6"/><circle cx="209.81" cy="237.29" r="1.6"/><circle cx="209.97" cy="237.13" r="1.6"/><circle cx="210.14" cy="236.96" r="1.6"/><circle cx="210.3" cy="236.8" r="1.6"/><circle cx="210.46" cy="236.64" r="1.6"/><circle cx="210.62" cy="236.48" r="1.6"/><circle cx="210.78" cy="236.32" r="1.6"/><circle cx="210.93" cy="236.17" r="1.6"/><circle cx="211.09" cy="236.01" r="1.6"/><circle cx="211.25" cy="235.85" r="1.6"/><circle cx="211.4" cy="235.7" r="1.6"/><circle cx="211.56" cy="235.54" r="1.6"/><circle cx="211.71" cy="235.39" r="1.6"/><circle cx="211.87" cy="235.23" r="1.6"/><circle cx="212.02" cy="235.08" r="1.6"/><circle cx="212.17" cy="234.93" r="1.6"/><circle cx="212.32" cy="234.78" r="1.6"/><circle cx="212.47" cy="234.63" r="1.6"/><circle cx="212.62" cy="234.48" r="1.6"/><circle cx="212.77" cy="234.33" r="1.6"/><circle cx="212.92" cy="234.18" r="1.6"/><circle cx="213.07" cy="234.03" r="1.6"/><circle cx="213.21" cy="233.89" r="1.6"/><circle cx="213.36" cy="233.74" r="1.6"/><circle cx="213.5" cy="233.6" r="1.6"/><circle cx="213.65" cy="233.45" r="1.6"/><circle cx="213.79" cy="233.31" r="1.6"/><circle cx="213.94" cy="233.16" r="1.6"/><circle cx="214.08" cy="233.02" r="1.6"/><circle cx="214.22" cy="232.88" r="1.6"/><circle cx="214.36" cy="232.74" r="1.6"/><circle cx="214.5" cy="232.6" r="1.6"/><circle cx="214.64" cy="232.46" r="1.6"/><circle cx="214.78" cy="232.32" r="1.6"/><circle cx="214.92" cy="232.18" r="1.6"/><circle cx="215.06" cy="232.05" r="1.6"/><circle cx="215.2" cy="231.91" r="1.6"/><circle cx="215.33" cy="231.78" r="1.6"/><circle cx="215.47" cy="231.64" r="1.6"/><circle cx="215.61" cy="231.51" r="1.6"/><circle cx="215.74" cy="231.37" r="1.6"/><circle cx="215.88" cy="231.24" r="1.6"/><circle cx="216.01" cy="231.11" r="1.6"/><circle cx="216.14" cy="230.98" r="1.6"/><circle cx="216.28" cy="230.84" r="1.6"/><circle cx="216.41" cy="230.71" r="1.6"/><circle cx="216.54" cy="230.58" r="1.6"/><circle cx="216.67" cy="230.45" r="1.6"/><circle cx="216.8" cy="230.32" r="1.6"/><circle cx="216.93" cy="230.2" r="1.6"/><circle cx="217.06" cy="230.07" r="1.6"/><circle cx="217.19" cy="229.94" r="1.6"/><circle cx="217.32" cy="229.81" r="1.6"/><circle cx="217.45" cy="229.69" r="1.6"/><circle cx="217.57" cy="229.56" r="1.6"/><circle cx="217.7" cy="229.44" r="1.6"/><circle cx="217.83" cy="229.31" r="1.6"/><circle cx="217.95" cy="229.19" r="1.6"/><circle cx="218.08" cy="229.06" r="1.6"/><circle cx="218.2" cy="228.94" r="1.6"/><circle cx="218.33" cy="228.82" r="1.6"/><circle cx="218.45" cy="228.69" r="1.6"/><circle cx="218.57" cy="228.57" r="1.6"/><circle cx="218.7" cy="228.45" r="1.6"/><circle cx="218.82" cy="228.33" r="1.6"/><circle cx="218.94" cy="228.21" r="1.6"/><circle cx="219.06" cy="228.09" r="1.6"/><circle cx="219.18" cy="227.97" r="1.6"/><circle cx="219.3" cy="227.85" r="1.6"/><circle cx="219.42" cy="227.73" r="1.6"/><circle cx="219.54" cy="227.61" r="1.6"/><circle cx="219.66" cy="227.5" r="1.6"/><circle cx="219.78" cy="227.38" r="1.6"/><circle cx="219.9" cy="227.26" r="1.6"/><circle cx="220.02" cy="227.15" r="1.6"/><circle cx="220.13" cy="227.03" r="1.6"/><circle cx="220.25" cy="226.92" r="1.6"/><circle cx="220.37" cy="226.8" r="1.6"/><circle cx="220.48" cy="226.69" r="1.6"/><circle cx="220.6" cy="226.57" r="1.6"/><circle cx="220.71" cy="226.46" r="1.6"/><circle cx="220.83" cy="226.34" r="1.6"/><circle cx="220.94" cy="226.23" r="1.6"/><circle cx="221.05" cy="226.12" r="1.6"/><circle cx="221.17" cy="226.01" r="1.6"/><circle cx="221.28" cy="225.9" r="1.6"/><circle cx="221.39" cy="225.78" r="1.6"/><circle cx="221.5" cy="225.67" r="1.6"/><circle cx="221.62" cy="225.56" r="1.6"/><circle cx="221.73" cy="225.45" r="1.6"/><circle cx="221.84" cy="225.34" r="1.6"/><circle cx="221.95" cy="225.24" r="1.6"/><circle cx="222.06" cy="225.13" r="1.6"/><circle cx="222.17" cy="225.02" r="1.6"/><circle cx="222.28" cy="224.91" r="1.6"/><circle cx="222.39" cy="224.8" r="1.6"/><circle cx="222.49" cy="224.7" r="1.6"/><circle cx="222.6" cy="224.59" r="1.6"/><circle cx="222.71" cy="224.48" r="1.6"/><circle cx="222.82" cy="224.38" r="1.6"/><circle cx="222.92" cy="224.27" r="1.6"/><circle cx="223.03" cy="224.16" r="1.6"/><circle cx="223.14" cy="224.06" r="1.6"/><circle cx="223.24" cy="223.95" r="1.6"/><circle cx="223.35" cy="223.85" r="1.6"/><circle cx="223.45" cy="223.8" r="1.6"/><circle cx="223.56" cy="223.8" r="1.6"/></g>
<path d="M48.8,350.8 153.9,303.3 223.4,235.9" fill="none" stroke="#444" stroke-width="0.75" stroke-linejoin="round" stroke-dasharray="1.1,1.5"/>
<path d="M48.8,329.7 147.7,285.2 223.4,227.5" fill="none" stroke="#444" stroke-width="0.75" stroke-linejoin="round" stroke-dasharray="1.1,1.5"/>
</g>
<rect x="48.5" y="220.6" width="174.9" height="141.4" fill="none" stroke="#262626" stroke-width="1"/>
<path d="M48.8,362v3M119.6,362v3M190.4,362v3M70.11,362v2M82.58,362v2M91.43,362v2M98.29,362v2M103.89,362v2M108.63,362v2M112.74,362v2M116.36,362v2M140.91,362v2M153.38,362v2M162.23,362v2M169.09,362v2M174.69,362v2M179.43,362v2M183.54,362v2M187.16,362v2M211.71,362v2" stroke="#262626" stroke-width="0.9" fill="none"/>
<path d="M48.5,362h-3M48.5,331.1h-3M48.5,300.2h-3M48.5,269.3h-3M48.5,238.4h-3M48.5,352.7h-2M48.5,347.26h-2M48.5,343.4h-2M48.5,340.4h-2M48.5,337.96h-2M48.5,335.89h-2M48.5,334.09h-2M48.5,332.51h-2M48.5,321.8h-2M48.5,316.36h-2M48.5,312.5h-2M48.5,309.5h-2M48.5,307.06h-2M48.5,304.99h-2M48.5,303.19h-2M48.5,301.61h-2M48.5,290.9h-2M48.5,285.46h-2M48.5,281.6h-2M48.5,278.6h-2M48.5,276.16h-2M48.5,274.09h-2M48.5,272.29h-2M48.5,270.71h-2M48.5,260h-2M48.5,254.56h-2M48.5,250.7h-2M48.5,247.7h-2M48.5,245.26h-2M48.5,243.19h-2M48.5,241.39h-2M48.5,239.81h-2M48.5,229.1h-2M48.5,223.66h-2" stroke="#262626" stroke-width="0.9" fill="none"/>
<text x="48.8" y="374.5" font-size="10.8" text-anchor="middle" fill="#000" color="#000" font-weight="bold" >0.01</text>
<text x="119.6" y="374.5" font-size="10.8" text-anchor="middle" fill="#000" color="#000" font-weight="bold" >0.1</text>
<text x="190.4" y="374.5" font-size="10.8" text-anchor="middle" fill="#000" color="#000" font-weight="bold" >1</text>
<text x="41.4" y="365.7" font-size="10.5" text-anchor="end" fill="#000" color="#000" font-weight="bold" >10<tspan font-size="7.6" dy="-4.6">−4</tspan></text>
<text x="41.4" y="334.8" font-size="10.5" text-anchor="end" fill="#000" color="#000" font-weight="bold" >10<tspan font-size="7.6" dy="-4.6">−3</tspan></text>
<text x="41.4" y="303.9" font-size="10.5" text-anchor="end" fill="#000" color="#000" font-weight="bold" >10<tspan font-size="7.6" dy="-4.6">−2</tspan></text>
<text x="41.4" y="273" font-size="10.5" text-anchor="end" fill="#000" color="#000" font-weight="bold" >10<tspan font-size="7.6" dy="-4.6">−1</tspan></text>
<text x="41.4" y="242.1" font-size="10.5" text-anchor="end" fill="#000" color="#000" font-weight="bold" >10<tspan font-size="7.6" dy="-4.6">0</tspan></text>
<text x="151" y="389" font-size="10.9" text-anchor="middle" fill="#000" color="#000" font-weight="bold" >Voltage (V)</text>
<text transform="translate(14.6,291.5) rotate(-90)" font-size="10.6" text-anchor="middle" font-weight="bold" >Current density (mA cm<tspan font-size="8" dy="-4.6">−2</tspan><tspan dy="4.6">)</tspan></text>
<circle cx="63.2" cy="229.8" r="1.6" fill="none" stroke="#f8a25e" stroke-width="0.6"/>
<circle cx="63.2" cy="241.8" r="1.6" fill="none" stroke="#1414f0" stroke-width="0.6"/>
<text x="68" y="234.3" font-size="9.4" text-anchor="start" fill="#f8a25e" color="#f8a25e" font-weight="bold" textLength="32.8" lengthAdjust="spacingAndGlyphs">Control</text>
<text x="68" y="245.1" font-size="9.4" text-anchor="start" fill="#1414f0" color="#1414f0" font-weight="bold" textLength="28.7" lengthAdjust="spacingAndGlyphs">Target</text>
<text x="114.1" y="264" font-size="9.2" text-anchor="start" fill="#1414f0" color="#1414f0" font-weight="bold" textLength="48.2" lengthAdjust="spacingAndGlyphs">V<tspan font-size="6.3" dy="3">TFL</tspan><tspan dy="-3">=0.24 V</tspan></text>
<text x="131" y="343" font-size="9.2" text-anchor="start" fill="#f8a25e" color="#f8a25e" font-weight="bold" textLength="47.6" lengthAdjust="spacingAndGlyphs">V<tspan font-size="6" dy="3.2">TFL</tspan><tspan dy="-3.2">=0.31 V</tspan></text>
<line x1="139.8" y1="274" x2="144.7" y2="282.7" stroke="#1414f0" stroke-width="0.8" />
<path d="M139.3,273.2 l2.6,1.2 l-2.1,1.1 z" fill="#1414f0"/>
<line x1="154.5" y1="302.8" x2="154.5" y2="331" stroke="#f8a25e" stroke-width="0.8" />
<path d="M153.2,330 h2.6 l-1.3,3 z" fill="#f8a25e"/>
<rect x="505.5" y="17.5" width="172.8" height="139.9" fill="none" stroke="#262626" stroke-width="1"/>
<path d="M510.8,157.4v3M537.6,157.4v3M564.4,157.4v3M591.2,157.4v3M618,157.4v3M644.8,157.4v3M671.6,157.4v3M524.2,157.4v2M551,157.4v2M577.8,157.4v2M604.6,157.4v2M631.4,157.4v2M658.2,157.4v2" stroke="#262626" stroke-width="0.9" fill="none"/>
<text x="510.8" y="172.6" font-size="10.6" text-anchor="middle" fill="#000" color="#000" font-weight="bold" letter-spacing="0.35">0</text>
<text x="537.6" y="172.6" font-size="10.6" text-anchor="middle" fill="#000" color="#000" font-weight="bold" letter-spacing="0.35">500</text>
<text x="564.4" y="172.6" font-size="10.6" text-anchor="middle" fill="#000" color="#000" font-weight="bold" letter-spacing="0.35">1000</text>
<text x="591.2" y="172.6" font-size="10.6" text-anchor="middle" fill="#000" color="#000" font-weight="bold" letter-spacing="0.35">1500</text>
<text x="618" y="172.6" font-size="10.6" text-anchor="middle" fill="#000" color="#000" font-weight="bold" letter-spacing="0.35">2000</text>
<text x="644.8" y="172.6" font-size="10.6" text-anchor="middle" fill="#000" color="#000" font-weight="bold" letter-spacing="0.35">2500</text>
<text x="671.6" y="172.6" font-size="10.6" text-anchor="middle" fill="#000" color="#000" font-weight="bold" letter-spacing="0.35">3000</text>
<path d="M505.5,22.5h-3M505.5,151.4h-3M505.5,112.6h-2M505.5,89.9h-2M505.5,73.79h-2M505.5,61.3h-2M505.5,51.1h-2M505.5,42.47h-2M505.5,34.99h-2M505.5,28.4h-2" stroke="#262626" stroke-width="0.9" fill="none"/>
<text x="499.2" y="25.9" font-size="10.8" text-anchor="end" fill="#000" color="#000" font-weight="bold" >1</text>
<text x="499.2" y="155.1" font-size="10.8" text-anchor="end" fill="#000" color="#000" font-weight="bold" >0.1</text>
<text x="592.2" y="196.9" font-size="11.1" text-anchor="middle" fill="#000" color="#000" font-weight="bold" >Delay time (ps)</text>
<text transform="translate(477.6,89.2) rotate(-90)" font-size="10.6" text-anchor="middle" font-weight="bold" >Normalized -<tspan font-weight="normal">Δ</tspan>A</text>
<g fill="#fcc89a" stroke="#f8a25e" stroke-width="0.9"><circle cx="511.3" cy="38" r="1.3"/><circle cx="511.41" cy="40.2" r="1.3"/><circle cx="511.52" cy="42.4" r="1.3"/><circle cx="511.63" cy="44.6" r="1.3"/><circle cx="511.74" cy="46.8" r="1.3"/><circle cx="511.85" cy="49" r="1.3"/><circle cx="511.96" cy="51.2" r="1.3"/><circle cx="512.07" cy="53.4" r="1.3"/><circle cx="512.18" cy="55.6" r="1.3"/><circle cx="512.29" cy="57.8" r="1.3"/><circle cx="512.4" cy="60" r="1.3"/><circle cx="512.51" cy="62.2" r="1.3"/><circle cx="512.62" cy="64.4" r="1.3"/><circle cx="512.73" cy="66.6" r="1.3"/><circle cx="512.84" cy="68.8" r="1.3"/><circle cx="512.95" cy="71" r="1.3"/><circle cx="513.06" cy="73.2" r="1.3"/><circle cx="513.17" cy="75.4" r="1.3"/><circle cx="513.28" cy="77.6" r="1.3"/><circle cx="511" cy="80.3" r="1.3"/><circle cx="511" cy="123.2" r="1.3"/><circle cx="515.6" cy="80.3" r="1.3"/><circle cx="517.2" cy="80.3" r="1.3"/><circle cx="518.8" cy="84.4" r="1.3"/><circle cx="520.4" cy="84.4" r="1.3"/><circle cx="520" cy="88.6" r="1.3"/><circle cx="521.8" cy="88.6" r="1.3"/><circle cx="523.6" cy="88.6" r="1.3"/><circle cx="525.4" cy="88.6" r="1.3"/><circle cx="527.2" cy="88.6" r="1.3"/><circle cx="529" cy="88.6" r="1.3"/><circle cx="526.2" cy="93.2" r="1.3"/><circle cx="528" cy="93.2" r="1.3"/><circle cx="529.8" cy="93.2" r="1.3"/><circle cx="531.6" cy="93.2" r="1.3"/><circle cx="533.4" cy="93.2" r="1.3"/><circle cx="535.2" cy="93.2" r="1.3"/><circle cx="537" cy="93.2" r="1.3"/><circle cx="538.8" cy="93.2" r="1.3"/><circle cx="540.6" cy="93.2" r="1.3"/><circle cx="542.4" cy="93.2" r="1.3"/><circle cx="544.2" cy="93.2" r="1.3"/><circle cx="546" cy="93.2" r="1.3"/><circle cx="543.9" cy="98" r="1.3"/><circle cx="545.7" cy="98" r="1.3"/><circle cx="547.5" cy="98" r="1.3"/><circle cx="549.3" cy="98" r="1.3"/><circle cx="551.1" cy="98" r="1.3"/><circle cx="552.9" cy="98" r="1.3"/><circle cx="554.7" cy="98" r="1.3"/><circle cx="556.5" cy="98" r="1.3"/><circle cx="558" cy="101" r="1.3"/><circle cx="560.5" cy="101.5" r="1.3"/><circle cx="563" cy="100" r="1.3"/><circle cx="566" cy="102.4" r="1.3"/><circle cx="568.6" cy="105" r="1.3"/><circle cx="571.5" cy="104" r="1.3"/><circle cx="574.8" cy="103" r="1.3"/><circle cx="577.4" cy="106.3" r="1.3"/><circle cx="581" cy="106.8" r="1.3"/><circle cx="581.4" cy="107.3" r="1.3"/><circle cx="585" cy="105.6" r="1.3"/><circle cx="588.5" cy="108.6" r="1.3"/><circle cx="592.4" cy="109.8" r="1.3"/><circle cx="596.4" cy="109.1" r="1.3"/><circle cx="600.8" cy="111.6" r="1.3"/><circle cx="605.6" cy="111.2" r="1.3"/><circle cx="610" cy="112.5" r="1.3"/><circle cx="615" cy="113.9" r="1.3"/><circle cx="620.3" cy="118" r="1.3"/><circle cx="625.6" cy="118" r="1.3"/><circle cx="631.6" cy="118.7" r="1.3"/><circle cx="637.4" cy="119.5" r="1.3"/><circle cx="644" cy="121.3" r="1.3"/><circle cx="650.7" cy="124.5" r="1.3"/><circle cx="657.7" cy="122.7" r="1.3"/><circle cx="665.2" cy="123.6" r="1.3"/><circle cx="672.8" cy="126.8" r="1.3"/></g>
<g fill="#5a5aff" stroke="#1414f0" stroke-width="0.9"><circle cx="511" cy="22.3" r="1.3"/><circle cx="511" cy="26.7" r="1.3"/><circle cx="511" cy="31.1" r="1.3"/><circle cx="511" cy="35.6" r="1.3"/><circle cx="511" cy="41.7" r="1.3"/><circle cx="510.6" cy="54.5" r="1.3"/><circle cx="510.6" cy="75" r="1.3"/><circle cx="511" cy="103.8" r="1.3"/><circle cx="511" cy="140.9" r="1.3"/><circle cx="511.8" cy="43.5" r="1.3"/><circle cx="513.5" cy="49.56" r="1.3"/><circle cx="515.2" cy="52.2" r="1.3"/><circle cx="516.9" cy="53.9" r="1.3"/><circle cx="518.6" cy="54.83" r="1.3"/><circle cx="520.3" cy="55.65" r="1.3"/><circle cx="522" cy="56.76" r="1.3"/><circle cx="523.7" cy="57.48" r="1.3"/><circle cx="525.4" cy="59.02" r="1.3"/><circle cx="527.1" cy="60.12" r="1.3"/><circle cx="528.8" cy="60.06" r="1.3"/><circle cx="530.5" cy="60.16" r="1.3"/><circle cx="532.2" cy="60.08" r="1.3"/><circle cx="533.9" cy="60.8" r="1.3"/><circle cx="535.6" cy="61.43" r="1.3"/><circle cx="512.4" cy="46.5" r="1.3"/><circle cx="513" cy="48.58" r="1.3"/><circle cx="537.7" cy="63" r="1.3"/><circle cx="539.6" cy="64.3" r="1.3"/><circle cx="541.5" cy="65" r="1.3"/><circle cx="543.4" cy="65.9" r="1.3"/><circle cx="545.3" cy="66.5" r="1.3"/><circle cx="547.2" cy="66.5" r="1.3"/><circle cx="549.1" cy="67.5" r="1.3"/><circle cx="551" cy="68" r="1.3"/><circle cx="552.9" cy="67.8" r="1.3"/><circle cx="554.1" cy="67.2" r="1.3"/><circle cx="556" cy="70.3" r="1.3"/><circle cx="557.9" cy="69.3" r="1.3"/><circle cx="560.4" cy="69.3" r="1.3"/><circle cx="563" cy="71" r="1.3"/><circle cx="565.5" cy="72.2" r="1.3"/><circle cx="568" cy="73.1" r="1.3"/><circle cx="570.5" cy="73.1" r="1.3"/><circle cx="573.1" cy="73.9" r="1.3"/><circle cx="575.6" cy="74.7" r="1.3"/><circle cx="578.1" cy="75.4" r="1.3"/><circle cx="581.4" cy="75.5" r="1.3"/><circle cx="585" cy="77.3" r="1.3"/><circle cx="588.5" cy="77.3" r="1.3"/><circle cx="592.4" cy="78.2" r="1.3"/><circle cx="596.4" cy="77.1" r="1.3"/><circle cx="600.8" cy="80.5" r="1.3"/><circle cx="605.6" cy="81.6" r="1.3"/><circle cx="610" cy="82.6" r="1.3"/><circle cx="615" cy="86.5" r="1.3"/><circle cx="620.3" cy="87.6" r="1.3"/><circle cx="625.6" cy="87.6" r="1.3"/><circle cx="631.6" cy="87.6" r="1.3"/><circle cx="637.4" cy="89" r="1.3"/><circle cx="644" cy="90.4" r="1.3"/><circle cx="650.7" cy="93" r="1.3"/><circle cx="657.7" cy="94.5" r="1.3"/><circle cx="665.2" cy="95.9" r="1.3"/><circle cx="672.8" cy="97.5" r="1.3"/></g>
<g fill="#fcc89a" stroke="#f8a25e" stroke-width="0.9"><circle cx="626" cy="25.4" r="1.3"/></g>
<g fill="#5a5aff" stroke="#1414f0" stroke-width="0.9"><circle cx="626" cy="37.1" r="1.3"/></g>
<text x="637.7" y="28.3" font-size="9.5" text-anchor="start" fill="#f8a25e" color="#f8a25e" font-weight="bold" textLength="33.3" lengthAdjust="spacingAndGlyphs">Control</text>
<text x="637.8" y="39.8" font-size="9.5" text-anchor="start" fill="#1414f0" color="#1414f0" font-weight="bold" textLength="28.8" lengthAdjust="spacingAndGlyphs">Target</text>
<g clip-path="url(#cf)">
<path d="M505.2,223.76 505.6,224 506,225.37 506.4,225.84 506.8,226.47 507.2,227.52 507.6,228.3 508,229.22 508.4,229.72 508.8,230.83 509.2,231.11 509.6,232.31 510,233.2 510.4,233.68 510.8,234.79 511.2,235.41 511.6,235.76 512,236.35 512.4,237.22 512.8,238.16 513.2,238.39 513.6,239.15 514,240.26 514.4,240.76 514.8,241.23 515.2,242.3 515.6,242.88 516,244 516.4,243.99 516.8,244.27 517.2,245.1 517.6,246.05 518,246.46 518.4,248.3 518.8,248.75 519.2,249.07 519.6,249.89 520,249.99 520.4,251.02 520.8,251.05 521.2,251.75 521.6,252.53 522,253.09 522.4,253.92 522.8,254.66 523.2,255.36 523.6,255.59 524,257.12 524.4,257.57 524.8,257.43 525.2,259.29 525.6,259.9 526,260.63 526.4,261.41 526.8,261.92 527.2,262.56 527.6,264.01 528,265.23 528.4,265.95 528.8,266.3 529.2,267.37 529.6,267.67 530,269.64 530.4,269.69 530.8,270.43 531.2,269.44 531.6,272.16 532,272.24 532.4,272.42 532.8,274.11 533.2,273.33 533.6,274.22 534,276.67 534.4,276.35 534.8,274.59 535.2,276.9 535.6,277.97 536,278.14 536.4,278.01 536.8,279.43 537.2,279.73 537.6,280.26 538,280.97 538.4,281.17 538.8,281.13 539.2,282.24 539.6,281.7 540,283.29 540.4,283.47 540.8,283.97 541.2,284.11 541.6,284.3 542,285.61 542.4,287.01 542.8,288.99 543.2,288.99 543.6,286.58 544,289.41 544.4,288.63 544.8,289.71 545.2,289.47 545.6,289.59 546,291.38 546.4,292.41 546.8,293.19 547.2,293.94 547.6,291.31 548,295.19 548.4,292.34 548.8,294.87 549.2,294.09 549.6,294.95 550,296.52 550.4,296.18 550.8,296.87 551.2,297.68 551.6,299.29 552,299.39 552.4,298.42 552.8,297.86 553.2,297.86 553.6,298.61 554,298.14 554.4,300.31 554.8,302.62 555.2,302.27 555.6,303.82 556,298.71 556.4,303.09 556.8,301.26 557.2,306.6 557.6,301.71 558,303.33 558.4,303.7 558.8,304.58 559.2,302.97 559.6,309.66 560,306.74 560.4,306.6 560.8,307.47 561.2,306.04 561.6,305.63 562,308.23 562.4,308.54 562.8,310 563.2,313.47 563.6,310.17 564,308.23 564.4,307.18 564.8,311.39 565.2,313.28 565.6,310.34 566,312.5 566.4,315.14 566.8,310.51 567.2,312.88 567.6,311.21 568,313.67 568.4,314.92 568.8,315.8 569.2,311.39 569.6,312.5 570,312.31 570.4,317.43 570.8,316.95 571.2,320.02 571.6,312.31 572,317.68 572.4,314.5 572.8,316.48 573.2,317.68 573.6,322.68 574,316.72 574.4,316.95 574.8,319.75 575.2,320.02 575.6,317.19 576,322.06 576.4,320.87 576.8,322.68 577.2,320.87 577.6,322.06 578,320.02 578.4,323.65 578.8,327.66 579.2,328.48 579.6,320.3 580,323 580.4,325.73 580.8,326.1 581.2,325.01 581.6,326.1 582,322.68 582.4,324.66 582.8,324.32 583.2,324.66 583.6,320.3 584,326.87 584.4,327.26 584.8,325.01 585.2,332.16 585.6,326.1 586,325.01 586.4,331.17 586.8,336.66 587.2,328.48 587.6,328.06 588,331.17 588.4,330.7 588.8,325.01 589.2,329.78 589.6,328.48 590,329.34 590.4,331.17 590.8,328.91 591.2,333.19 591.6,336.04 592,330.24 592.4,331.66 592.8,331.66 593.2,327.66 593.6,334.85 594,332.16 594.4,339.35 594.8,343.32 595.2,336.04 595.6,334.85 596,340.09 596.4,340.09 596.8,335.44 597.2,332.67 597.6,340.09 598,339.35 598.4,342.46 598.8,345.16 599.2,331.66 599.6,334.85 600,336.04 600.4,340.09 600.8,337.96 601.2,338.65 601.6,335.44 602,339.35 602.4,337.96 602.8,340.09 603.2,342.46 603.6,337.96 604,340.85 604.4,347.18 604.8,338.65 605.2,339.35 605.6,341.64 606,344.22 606.4,347.18 606.8,351.95 607.2,339.35 607.6,347.18 608,344.22 608.4,338.65 608.8,338.65 609.2,344.22 609.6,342.46 610,344.22 610.4,344.22 610.8,345.16 611.2,351.95 611.6,348.27 612,346.14 612.4,348.27 612.8,341.64 613.2,350.64 613.6,345.16 614,345.16 614.4,350.64 614.8,343.32 615.2,350.64 615.6,354.83 616,349.42 616.4,339.35 616.8,354.83 617.2,350.64 617.6,354.83 618,341.64 618.4,351.95 618.8,356.45 619.2,354.83 619.6,349.42 620,354.83 620.4,349.42 620.8,351.95 621.2,360.12 621.6,339.35 622,358.2 622.4,342.46 622.8,340.09 623.2,350.64 623.6,353.34 624,360.12 624.4,349.42 624.8,345.16 625.2,349.42 625.6,351.95 626,362.25 626.4,358.2 626.8,349.42 627.2,356.45 627.6,360.12 628,349.42 628.4,356.45 628.8,350.64 629.2,347.18 629.6,350.64 630,345.16 630.4,349.42 630.8,350.64 631.2,351.95 631.6,345.16 632,356.45 632.4,356.45 632.8,358.2 633.2,358.2 633.6,350.64 634,351.95 634.4,349.42 634.8,360.12 635.2,353.34 635.6,348.27 636,351.95 636.4,349.42 636.8,351.95 637.2,367.32 637.6,356.45 638,353.34 638.4,353.34 638.8,345.16 639.2,360.12 639.6,354.83 640,360.12 640.4,354.83 640.8,360.12 641.2,356.45 641.6,364.63 642,354.83 642.4,351.95 642.8,356.45 643.2,348.27 643.6,351.95 644,358.2 644.4,360.12 644.8,354.83 645.2,354.83 645.6,360.12 646,356.45 646.4,356.45 646.8,362.25 647.2,360.12 647.6,358.2 648,374.11 648.4,367.32 648.8,351.95 649.2,364.63 649.6,360.12 650,360.12 650.4,362.25 650.8,356.45 651.2,362.25 651.6,362.25 652,349.42 652.4,374.11 652.8,354.83 653.2,362.25 653.6,364.63 654,362.25 654.4,358.2 654.8,356.45 655.2,364.63 655.6,354.83 656,362.25 656.4,362.25 656.8,346.14 657.2,358.2 657.6,358.2 658,354.83 658.4,356.45 658.8,360.12 659.2,378.61 659.6,364.63 660,367.32 660.4,360.12 660.8,348.27 661.2,358.2 661.6,356.45 662,354.83 662.4,353.34 662.8,367.32 663.2,367.32 663.6,364.63 664,362.25 664.4,358.2 664.8,364.63 665.2,360.12 665.6,362.25 666,364.63 666.4,356.45 666.8,406.57 667.2,360.12 667.6,358.2 668,374.11 668.4,370.43 668.8,362.25 669.2,360.12 669.6,351.95 670,360.12 670.4,356.45 670.8,360.12 671.2,367.32 671.6,370.43 672,367.32 672.4,374.11 672.8,358.2 673.2,358.2 673.6,378.61 674,367.32 674.4,374.11 674.8,378.61 675.2,362.25 675.6,378.61 676,367.32 676.4,362.25 676.8,358.2 677.2,367.32 677.6,370.43 678,364.63" fill="none" stroke="#f8a25e" stroke-width="1.15" stroke-linejoin="round" />
<path d="M505.2,223.08 505.65,223.91 506.1,225.05 506.55,225.26 507,225.74 507.45,226.52 507.9,226.77 508.35,227.83 508.8,228.27 509.25,229 509.7,229.33 510.15,230.15 510.6,231.04 511.05,231.02 511.5,231.73 511.95,232.43 512.4,233.23 512.85,233.24 513.3,234.38 513.75,234.63 514.2,235.36 514.65,235.39 515.1,236.2 515.55,237.32 516,237.55 516.45,238.14 516.9,238.62 517.35,239.06 517.8,239.73 518.25,240.81 518.7,241.63 519.15,241.63 519.6,242.06 520.05,243.1 520.5,243.69 520.95,244 521.4,244.31 521.85,244.98 522.3,245.87 522.75,246.33 523.2,247.07 523.65,247.26 524.1,247.27 524.55,248.09 525,249.16 525.45,249.1 525.9,250.66 526.35,250.99 526.8,251.15 527.25,251.21 527.7,252.35 528.15,253.04 528.6,252.73 529.05,253.96 529.5,253.88 529.95,254.55 530.4,255.4 530.85,256.07 531.3,256.35 531.75,258.54 532.2,258.2 532.65,259.51 533.1,258.7 533.55,259.65 534,260.09 534.45,260.71 534.9,261.32 535.35,262.09 535.8,262.17 536.25,262.67 536.7,263.3 537.15,265.36 537.6,264.44 538.05,264.9 538.5,264.97 538.95,265.77 539.4,266.16 539.85,266.77 540.3,267.76 540.75,268.32 541.2,267.53 541.65,268.45 542.1,270.65 542.55,269.46 543,270.2 543.45,271.28 543.9,270.08 544.35,271.28 544.8,272.97 545.25,273.96 545.7,273.55 546.15,274.45 546.6,274.05 547.05,273.68 547.5,275.03 547.95,277 548.4,276.51 548.85,277.23 549.3,277.26 549.75,277.13 550.2,278.35 550.65,277.03 551.1,278.18 551.55,280.15 552,282.2 552.45,281.57 552.9,281.21 553.35,280.22 553.8,282.54 554.25,284.02 554.7,282.2 555.15,283.02 555.6,284.02 556.05,286.27 556.5,285.91 556.95,284.58 557.4,286.8 557.85,286.43 558.3,286.07 558.75,287.61 559.2,289.65 559.65,285.76 560.1,288.23 560.55,288.63 561,290.08 561.45,288.12 561.9,287.34 562.35,289.47 562.8,290.98 563.25,292.83 563.7,292.62 564.15,290.92 564.6,291.45 565.05,292.27 565.5,292.76 565.95,294.17 566.4,296.61 566.85,295.93 567.3,296.01 567.75,294.09 568.2,293.41 568.65,297.05 569.1,296.96 569.55,296.52 570,296.78 570.45,296.18 570.9,297.95 571.35,299.29 571.8,298.52 572.25,298.61 572.7,300.41 573.15,299.29 573.6,297.95 574.05,301.05 574.5,300.41 574.95,300.2 575.4,301.37 575.85,304.58 576.3,303.33 576.75,303.33 577.2,307.32 577.65,304.45 578.1,301.16 578.55,307.18 579,304.19 579.45,303.57 579.9,302.73 580.35,306.74 580.8,303.57 581.25,307.77 581.7,306.89 582.15,305.36 582.6,307.03 583.05,306.74 583.5,304.45 583.95,310.68 584.4,309.5 584.85,311.03 585.3,307.47 585.75,306.89 586.2,311.03 586.65,310.68 587.1,309.5 587.55,312.69 588,311.21 588.45,308.23 588.9,310 589.35,310.68 589.8,313.08 590.25,312.69 590.7,310.68 591.15,314.08 591.6,315.58 592.05,315.36 592.5,316.72 592.95,312.88 593.4,314.92 593.85,315.8 594.3,314.71 594.75,316.72 595.2,311.94 595.65,314.71 596.1,316.25 596.55,317.68 597,322.68 597.45,321.75 597.9,315.14 598.35,316.03 598.8,318.43 599.25,322.36 599.7,316.48 600.15,317.43 600.6,315.36 601.05,317.68 601.5,321.45 601.95,321.16 602.4,322.68 602.85,319.75 603.3,323.32 603.75,320.02 604.2,322.06 604.65,319.48 605.1,323.98 605.55,324.32 606,323.98 606.45,322.36 606.9,322.06 607.35,319.75 607.8,324.66 608.25,326.48 608.7,325.01 609.15,326.1 609.6,326.48 610.05,322.06 610.5,323.98 610.95,326.1 611.4,326.87 611.85,326.87 612.3,328.48 612.75,328.48 613.2,325.01 613.65,328.06 614.1,327.66 614.55,326.87 615,328.06 615.45,330.7 615.9,336.04 616.35,328.48 616.8,326.87 617.25,335.44 617.7,326.87 618.15,334.85 618.6,327.66 619.05,332.67 619.5,336.04 619.95,330.7 620.4,336.04 620.85,332.16 621.3,330.7 621.75,329.34 622.2,332.67 622.65,335.44 623.1,330.7 623.55,332.67 624,334.28 624.45,333.19 624.9,332.67 625.35,340.09 625.8,341.64 626.25,336.04 626.7,334.85 627.15,336.66 627.6,334.85 628.05,340.85 628.5,346.14 628.95,340.85 629.4,337.96 629.85,339.35 630.3,331.17 630.75,336.66 631.2,342.46 631.65,341.64 632.1,334.28 632.55,343.32 633,338.65 633.45,337.3 633.9,340.09 634.35,336.66 634.8,336.66 635.25,340.09 635.7,344.22 636.15,350.64 636.6,336.04 637.05,335.44 637.5,340.85 637.95,334.85 638.4,345.16 638.85,334.28 639.3,336.04 639.75,336.04 640.2,340.09 640.65,343.32 641.1,337.3 641.55,340.09 642,347.18 642.45,339.35 642.9,344.22 643.35,340.09 643.8,340.09 644.25,341.64 644.7,333.73 645.15,341.64 645.6,354.83 646.05,343.32 646.5,342.46 646.95,337.3 647.4,349.42 647.85,344.22 648.3,340.09 648.75,344.22 649.2,353.34 649.65,344.22 650.1,339.35 650.55,340.85 651,340.09 651.45,341.64 651.9,340.09 652.35,335.44 652.8,341.64 653.25,337.3 653.7,347.18 654.15,348.27 654.6,346.14 655.05,344.22 655.5,342.46 655.95,338.65 656.4,353.34 656.85,347.18 657.3,345.16 657.75,346.14 658.2,345.16 658.65,345.16 659.1,349.42 659.55,332.16 660,339.35 660.45,350.64 660.9,346.14 661.35,350.64 661.8,339.35 662.25,353.34 662.7,350.64 663.15,344.22 663.6,360.12 664.05,351.95 664.5,349.42 664.95,346.14 665.4,339.35 665.85,348.27 666.3,346.14 666.75,351.95 667.2,344.22 667.65,345.16 668.1,341.64 668.55,347.18 669,348.27 669.45,343.32 669.9,347.18 670.35,340.85 670.8,347.18 671.25,356.45 671.7,341.64 672.15,349.42 672.6,349.42 673.05,344.22 673.5,341.64 673.95,356.45 674.4,350.64 674.85,345.16 675.3,347.18 675.75,346.14 676.2,346.14 676.65,343.32 677.1,350.64 677.55,356.45 678,345.16" fill="none" stroke="#1414f0" stroke-width="1.35" stroke-linejoin="round" />
</g>
<rect x="505.2" y="221.8" width="173.1" height="139.7" fill="none" stroke="#262626" stroke-width="1"/>
<path d="M505.2,361.5v3M534.05,361.5v3M562.9,361.5v3M591.75,361.5v3M620.6,361.5v3M649.45,361.5v3M678.3,361.5v3M519.62,361.5v2M548.48,361.5v2M577.33,361.5v2M606.17,361.5v2M635.02,361.5v2M663.88,361.5v2" stroke="#262626" stroke-width="0.9" fill="none"/>
<text x="505.2" y="374.6" font-size="10.8" text-anchor="middle" fill="#000" color="#000" font-weight="bold" >0</text>
<text x="534.05" y="374.6" font-size="10.8" text-anchor="middle" fill="#000" color="#000" font-weight="bold" >10</text>
<text x="562.9" y="374.6" font-size="10.8" text-anchor="middle" fill="#000" color="#000" font-weight="bold" >20</text>
<text x="591.75" y="374.6" font-size="10.8" text-anchor="middle" fill="#000" color="#000" font-weight="bold" >30</text>
<text x="620.6" y="374.6" font-size="10.8" text-anchor="middle" fill="#000" color="#000" font-weight="bold" >40</text>
<text x="649.45" y="374.6" font-size="10.8" text-anchor="middle" fill="#000" color="#000" font-weight="bold" >50</text>
<text x="678.3" y="374.6" font-size="10.8" text-anchor="middle" fill="#000" color="#000" font-weight="bold" >60</text>
<path d="M505.2,362.25h-3M505.2,315.8h-3M505.2,269.35h-3M505.2,222.9h-3M505.2,348.27h-2M505.2,340.09h-2M505.2,334.28h-2M505.2,329.78h-2M505.2,326.1h-2M505.2,323h-2M505.2,320.3h-2M505.2,317.93h-2M505.2,301.82h-2M505.2,293.64h-2M505.2,287.83h-2M505.2,283.33h-2M505.2,279.65h-2M505.2,276.55h-2M505.2,273.85h-2M505.2,271.48h-2M505.2,255.37h-2M505.2,247.19h-2M505.2,241.38h-2M505.2,236.88h-2M505.2,233.2h-2M505.2,230.1h-2M505.2,227.4h-2M505.2,225.03h-2" stroke="#262626" stroke-width="0.9" fill="none"/>
<text x="500.9" y="226" font-size="11.2" text-anchor="end" fill="#000" color="#000" font-weight="bold" >1</text>
<text x="500.9" y="272.45" font-size="11.2" text-anchor="end" fill="#000" color="#000" font-weight="bold" >0.1</text>
<text x="500.9" y="318.9" font-size="11.2" text-anchor="end" fill="#000" color="#000" font-weight="bold" >0.01</text>
<text x="500.9" y="365.35" font-size="11.2" text-anchor="end" fill="#000" color="#000" font-weight="bold" >0.001</text>
<text x="591.5" y="389" font-size="10.8" text-anchor="middle" fill="#000" color="#000" font-weight="bold" >Time (ns)</text>
<text transform="translate(466.1,291.7) rotate(-90)" font-size="10.8" text-anchor="middle" font-weight="bold" >Normalized intensity (a.u.)</text>
<line x1="621.4" y1="230.8" x2="639.4" y2="230.8" stroke="#f8a25e" stroke-width="1.3" />
<line x1="621.4" y1="242.5" x2="639.4" y2="242.5" stroke="#1414f0" stroke-width="1.3" />
<text x="642.4" y="234" font-size="9.5" text-anchor="start" fill="#f8a25e" color="#f8a25e" font-weight="bold" textLength="33.3" lengthAdjust="spacingAndGlyphs">Control</text>
<text x="642.4" y="245.1" font-size="9.5" text-anchor="start" fill="#1414f0" color="#1414f0" font-weight="bold" textLength="29" lengthAdjust="spacingAndGlyphs">Target</text>
<text x="513.8" y="338.3" font-size="8.6" text-anchor="start" fill="#f8a25e" color="#f8a25e" font-weight="bold" textLength="38.6" lengthAdjust="spacingAndGlyphs"><tspan font-weight="normal">τ</tspan>=4.79ns</text>
<text x="513.8" y="349.1" font-size="8.6" text-anchor="start" fill="#1414f0" color="#1414f0" font-weight="bold" textLength="38.6" lengthAdjust="spacingAndGlyphs"><tspan font-weight="normal">τ</tspan>=5.84ns</text>
<rect x="269.5" y="18.5" width="171.10" height="140.70" fill="url(#gc)"/>
<g clip-path="url(#clc)">
<rect x="292" y="18.5" width="30" height="140.70" fill="url(#gcr)" mask="url(#mcr)"/>
<rect x="319" y="18.5" width="9" height="140.70" fill="url(#gcy)" mask="url(#mcy)"/>
<rect x="330" y="18.5" width="14" height="140.70" fill="url(#gcb)" mask="url(#mcb)"/>
<ellipse cx="337.3" cy="159.2" rx="3.3" ry="1.8" fill="#0000a0" opacity="0.85"/>
<rect x="306" y="156.2" width="11" height="3" fill="#ff2800" opacity="0.45"/>
<path d="M348.5,159.2 C349,140 350,105 351.5,88 C352.5,78 353,74 353.6,73.5 C354.5,76 356.5,92 358,110 C359.5,128 360.5,140 361,148 C363,150.5 372,150 379,151 L380,159.2 Z" fill="#ff8000" opacity="0.85"/>
<path d="M349.3,159.2 C350,152 351.5,146.5 352.8,145.8 C354,146.5 355.5,153 356.5,159.2 Z" fill="#ff6c00" opacity="0.8"/>
<ellipse cx="373.2" cy="146" rx="2.6" ry="0.9" fill="#ff8000" opacity="0.7"/><ellipse cx="373.2" cy="142.4" rx="1.6" ry="0.6" fill="#ff8800" opacity="0.6"/>
</g>
<rect x="269.5" y="18.5" width="171.1" height="140.7" fill="none" stroke="#262626" stroke-width="1"/>
<path d="M269.5,159.2v3M292.31,159.2v3M315.13,159.2v3M337.94,159.2v3M360.75,159.2v3M383.57,159.2v3M406.38,159.2v3M429.19,159.2v3M280.91,159.2v2M303.72,159.2v2M326.53,159.2v2M349.35,159.2v2M372.16,159.2v2M394.97,159.2v2M417.79,159.2v2M440.6,159.2v2" stroke="#262626" stroke-width="0.9" fill="none"/>
<path d="M269.5,159.2h-3M269.5,112.3h-3M269.5,65.4h-3M269.5,18.5h-3M269.5,135.75h-2M269.5,88.85h-2M269.5,41.95h-2" stroke="#262626" stroke-width="0.9" fill="none"/>
<text x="269.5" y="172.4" font-size="9.2" text-anchor="middle" fill="#000" color="#000" font-weight="bold" >400</text>
<text x="292.31" y="172.4" font-size="9.2" text-anchor="middle" fill="#000" color="#000" font-weight="bold" >420</text>
<text x="315.13" y="172.4" font-size="9.2" text-anchor="middle" fill="#000" color="#000" font-weight="bold" >440</text>
<text x="337.94" y="172.4" font-size="9.2" text-anchor="middle" fill="#000" color="#000" font-weight="bold" >460</text>
<text x="360.75" y="172.4" font-size="9.2" text-anchor="middle" fill="#000" color="#000" font-weight="bold" >480</text>
<text x="383.57" y="172.4" font-size="9.2" text-anchor="middle" fill="#000" color="#000" font-weight="bold" >500</text>
<text x="406.38" y="172.4" font-size="9.2" text-anchor="middle" fill="#000" color="#000" font-weight="bold" >520</text>
<text x="429.19" y="172.4" font-size="9.2" text-anchor="middle" fill="#000" color="#000" font-weight="bold" >540</text>
<text x="263.6" y="162.4" font-size="9.2" text-anchor="end" fill="#000" color="#000" font-weight="bold" >0</text>
<text x="263.6" y="115.5" font-size="9.2" text-anchor="end" fill="#000" color="#000" font-weight="bold" >1</text>
<text x="263.6" y="68.6" font-size="9.2" text-anchor="end" fill="#000" color="#000" font-weight="bold" >2</text>
<text x="263.6" y="21.7" font-size="9.2" text-anchor="end" fill="#000" color="#000" font-weight="bold" >3</text>
<text x="270" y="14.6" font-size="9.6" text-anchor="start" fill="#000" color="#000" font-weight="bold" >×10<tspan font-size="6.4" dy="-4.6">3</tspan></text>
<text x="354.9" y="185" font-size="9.35" text-anchor="middle" fill="#000" color="#000" font-weight="bold" >Wavelength (nm)</text>
<text transform="translate(248.7,88.6) rotate(-90)" font-size="9.35" text-anchor="middle" font-weight="bold" >Delay time (ps)</text>
<text x="437" y="28.7" font-size="9.3" text-anchor="end" fill="#fff" color="#fff" font-weight="bold" >Control</text>
<rect x="418" y="119" width="10" height="27" fill="url(#jet)"/>
<text x="422.6" y="114.6" font-size="8.8" text-anchor="middle" fill="#fff" color="#fff" font-weight="bold" >0.018</text>
<text x="422.8" y="156.1" font-size="8.8" text-anchor="middle" fill="#fff" color="#fff" font-weight="bold" >−0.05</text>
<rect x="270.2" y="222.4" width="170.30" height="140.80" fill="url(#gd)"/>
<g clip-path="url(#cld)">
<rect x="290" y="222.4" width="32" height="140.80" fill="url(#gdr)" mask="url(#mdr)"/>
<rect x="331" y="222.4" width="9" height="140.80" fill="url(#gdb)" mask="url(#mdb)"/>
<ellipse cx="336" cy="363.2" rx="3" ry="3.5" fill="#000070" opacity="0.8"/>
<path d="M347,363.2 C348,330 349,300 350.5,285 C352,300 354,330 356,363.2 Z" fill="#ff4000" opacity="0.5"/>
</g>
<rect x="270.2" y="222.4" width="170.3" height="140.8" fill="none" stroke="#262626" stroke-width="1"/>
<path d="M270.2,363.2v3M292.91,363.2v3M315.61,363.2v3M338.32,363.2v3M361.03,363.2v3M383.73,363.2v3M406.44,363.2v3M429.15,363.2v3M281.55,363.2v2M304.26,363.2v2M326.97,363.2v2M349.67,363.2v2M372.38,363.2v2M395.09,363.2v2M417.79,363.2v2M440.5,363.2v2" stroke="#262626" stroke-width="0.9" fill="none"/>
<path d="M270.2,363.2h-3M270.2,316.27h-3M270.2,269.33h-3M270.2,222.4h-3M270.2,339.73h-2M270.2,292.8h-2M270.2,245.87h-2" stroke="#262626" stroke-width="0.9" fill="none"/>
<text x="270.2" y="377.6" font-size="10.9" text-anchor="middle" fill="#000" color="#000" font-weight="bold" >400</text>
<text x="292.91" y="377.6" font-size="10.9" text-anchor="middle" fill="#000" color="#000" font-weight="bold" >420</text>
<text x="315.61" y="377.6" font-size="10.9" text-anchor="middle" fill="#000" color="#000" font-weight="bold" >440</text>
<text x="338.32" y="377.6" font-size="10.9" text-anchor="middle" fill="#000" color="#000" font-weight="bold" >460</text>
<text x="361.03" y="377.6" font-size="10.9" text-anchor="middle" fill="#000" color="#000" font-weight="bold" >480</text>
<text x="383.73" y="377.6" font-size="10.9" text-anchor="middle" fill="#000" color="#000" font-weight="bold" >500</text>
<text x="406.44" y="377.6" font-size="10.9" text-anchor="middle" fill="#000" color="#000" font-weight="bold" >520</text>
<text x="429.15" y="377.6" font-size="10.9" text-anchor="middle" fill="#000" color="#000" font-weight="bold" >540</text>
<text x="263" y="367.1" font-size="10.9" text-anchor="end" fill="#000" color="#000" font-weight="bold" >0</text>
<text x="263" y="320.17" font-size="10.9" text-anchor="end" fill="#000" color="#000" font-weight="bold" >1</text>
<text x="263" y="273.23" font-size="10.9" text-anchor="end" fill="#000" color="#000" font-weight="bold" >2</text>
<text x="263" y="226.3" font-size="10.9" text-anchor="end" fill="#000" color="#000" font-weight="bold" >3</text>
<text x="270.4" y="218.4" font-size="10.4" text-anchor="start" fill="#000" color="#000" font-weight="bold" >×10<tspan font-size="7" dy="-4.8">3</tspan></text>
<text x="354" y="392.4" font-size="10.8" text-anchor="middle" fill="#000" color="#000" font-weight="bold" >Wavelength (nm)</text>
<text transform="translate(248,293) rotate(-90)" font-size="11" text-anchor="middle" font-weight="bold" >Delay time (ps)</text>
<text x="433.6" y="231.9" font-size="9.1" text-anchor="end" fill="#fff" color="#fff" font-weight="bold" >Target</text>
<rect x="418" y="323.3" width="9.5" height="26.4" fill="url(#jet2)"/>
<text x="422.7" y="321.6" font-size="9.1" text-anchor="middle" fill="#fff" color="#fff" font-weight="normal" style="stroke-width:0.25px">0.005</text>
<text x="422.7" y="360.2" font-size="9.1" text-anchor="middle" fill="#fff" color="#fff" font-weight="normal" style="stroke-width:0.25px">-0.018</text>
<line x1="417.8" y1="321.9" x2="427.6" y2="321.9" stroke="#fff" stroke-width="0.7" />
</svg></div></body></html>
